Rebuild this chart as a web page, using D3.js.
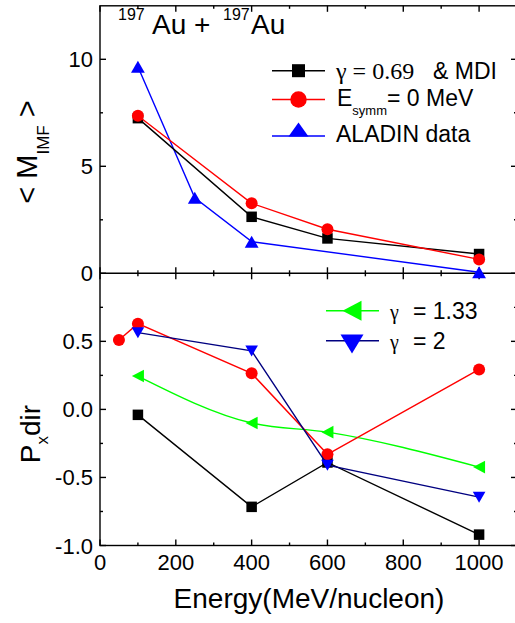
<!DOCTYPE html>
<html><head><meta charset="utf-8">
<script src="https://cdn.jsdelivr.net/npm/d3@7"></script>
<style>body{margin:0;background:#fff}svg{display:block}</style>
</head><body>
<svg id="c" width="515" height="623"></svg>
<script>
// ---------- data ----------
const topBlackX = [100, 400, 600, 1000];
const topBlackY = [7.25, 2.64, 1.63, 0.90];
const topRedX = [100, 400, 600, 1000];
const topRedY = [7.36, 3.27, 2.06, 0.65];
const topBlueX = [100, 250, 400, 1000];
const topBlueY = [9.65, 3.53, 1.48, 0.05];

const botRedX = [50, 100, 400, 600, 1000];
const botRedY = [0.51, 0.63, 0.265, -0.33, 0.294];
const botBlackX = [100, 400, 600, 1000];
const botBlackY = [-0.04, -0.716, -0.39, -0.92];
const botGreenX = [100, 400, 600, 1000];
const botGreenY = [0.245, -0.10, -0.167, -0.424];
const botNavyX = [100, 400, 600, 1000];
const botNavyY = [0.564, 0.43, -0.41, -0.645];

const xTicks = [0, 200, 400, 600, 800, 1000];
const xMinor = [100, 300, 500, 700, 900, 1100];
const topYTicks = [0, 5, 10];
const topYMinor = [2.5, 7.5];
const botYTicks = [-1.0, -0.5, 0.0, 0.5];
const botYMinor = [-0.75, -0.25, 0.25, 0.75];

// ---------- layout ----------
const svg = d3.select("#c");
const L = 100, R = 517, T = 5.8, MID = 273.3, B = 545.5;
const x = d3.scaleLinear().domain([0, 1100]).range([L, R]);
const yT = d3.scaleLinear().domain([0, 12.5]).range([MID, T]);
const yB = d3.scaleLinear().domain([-1, 1]).range([B, MID]);
const SANS = "'Liberation Sans', Arial, sans-serif";
const SERIF = "'Liberation Serif', 'Times New Roman', serif";

// frame
const g = svg.append("g").attr("stroke", "#000").attr("stroke-width", 1.4).attr("fill", "none");
g.append("rect").attr("x", L).attr("y", T).attr("width", R - L).attr("height", B - T);
g.append("line").attr("x1", L).attr("x2", R).attr("y1", MID).attr("y2", MID);

// axes with inward ticks
function xAxisTicks(yPos, dir) {
  xTicks.forEach(v => g.append("line").attr("x1", x(v)).attr("x2", x(v)).attr("y1", yPos).attr("y2", yPos + dir * 6));
  xMinor.forEach(v => g.append("line").attr("x1", x(v)).attr("x2", x(v)).attr("y1", yPos).attr("y2", yPos + dir * 3));
}
xAxisTicks(T, 1); xAxisTicks(MID, -1); xAxisTicks(MID, 1); xAxisTicks(B, -1);
function yAxisTicks(scale, major, minor) {
  major.forEach(v => {
    g.append("line").attr("x1", L).attr("x2", L + 6).attr("y1", scale(v)).attr("y2", scale(v));
    g.append("line").attr("x1", R).attr("x2", R - 6).attr("y1", scale(v)).attr("y2", scale(v));
  });
  minor.forEach(v => {
    g.append("line").attr("x1", L).attr("x2", L + 3).attr("y1", scale(v)).attr("y2", scale(v));
    g.append("line").attr("x1", R).attr("x2", R - 3).attr("y1", scale(v)).attr("y2", scale(v));
  });
}
yAxisTicks(yT, topYTicks, topYMinor);
yAxisTicks(yB, botYTicks, botYMinor);

// tick labels
const lab = svg.append("g").attr("font-family", SANS).attr("font-size", 22).attr("fill", "#000");
topYTicks.forEach(v => lab.append("text").attr("x", 93).attr("y", yT(v) + 8).attr("text-anchor", "end").text(d3.format("d")(v)));
botYTicks.forEach(v => lab.append("text").attr("x", 93).attr("y", yB(v) + 8).attr("text-anchor", "end").text(d3.format(".1f")(v).replace("−", "-")));
xTicks.forEach(v => lab.append("text").attr("x", x(v)).attr("y", 570).attr("text-anchor", "middle").text(v));

// axis titles
svg.append("text").attr("x", 309).attr("y", 608).attr("text-anchor", "middle")
  .attr("font-family", SANS).attr("font-size", 28).text("Energy(MeV/nucleon)");
const yl1 = svg.append("text").attr("transform", "translate(37,152) rotate(-90)").attr("text-anchor", "middle")
  .attr("font-family", SANS).attr("font-size", 29);
yl1.append("tspan").text("< M");
yl1.append("tspan").attr("font-size", 17).attr("dy", 12).text("IMF");
yl1.append("tspan").attr("dy", -12).text(" >");
const yl2 = svg.append("text").attr("transform", "translate(40,434) rotate(-90)").attr("text-anchor", "middle")
  .attr("font-family", SANS).attr("font-size", 28);
yl2.append("tspan").text("P");
yl2.append("tspan").attr("font-size", 17).attr("dy", 8).text("x");
yl2.append("tspan").attr("dy", -8).text("dir");

// title
const tt = svg.append("g").attr("font-family", SANS).attr("fill", "#000");
tt.append("text").attr("x", 118).attr("y", 20).attr("font-size", 16).text("197");
tt.append("text").attr("x", 152).attr("y", 33.5).attr("font-size", 28).text("Au +");
tt.append("text").attr("x", 223).attr("y", 20).attr("font-size", 16).text("197");
tt.append("text").attr("x", 251).attr("y", 33.5).attr("font-size", 28).text("Au");

// markers
function tri(cx, cy, w, h, dir) {
  if (dir === "up") return `M${cx - w / 2},${cy + h / 2}L${cx + w / 2},${cy + h / 2}L${cx},${cy - h / 2}Z`;
  if (dir === "down") return `M${cx - w / 2},${cy - h / 2}L${cx + w / 2},${cy - h / 2}L${cx},${cy + h / 2}Z`;
  return `M${cx + h / 2},${cy - w / 2}L${cx + h / 2},${cy + w / 2}L${cx - h / 2},${cy}Z`; // left
}
function marker(sel, type, cx, cy, color, s) {
  if (type === "square") sel.append("rect").attr("x", cx - s / 2).attr("y", cy - s / 2).attr("width", s).attr("height", s).attr("fill", color);
  else if (type === "circle") sel.append("circle").attr("cx", cx).attr("cy", cy).attr("r", s / 2).attr("fill", color);
  else if (type === "up") sel.append("path").attr("d", tri(cx, cy, s * 1.15, s, "up")).attr("fill", color);
  else if (type === "down") sel.append("path").attr("d", tri(cx, cy, s * 1.15, s, "down")).attr("fill", color);
  else if (type === "left") sel.append("path").attr("d", tri(cx, cy, s * 1.05, s, "left")).attr("fill", color);
}
function series(xs, ys, ysc, lineColor, mType, mColor, mSize, curve) {
  const pts = xs.map((v, i) => [x(v), ysc(ys[i])]);
  const line = d3.line().curve(curve || d3.curveLinear);
  svg.append("path").attr("d", line(pts)).attr("fill", "none").attr("stroke", lineColor).attr("stroke-width", 1.4);
  const mg = svg.append("g");
  pts.forEach(p => marker(mg, mType, p[0], p[1], mColor, mSize));
}

// top panel
series(topBlueX, topBlueY, yT, "#0000ff", "up", "#0000ff", 12);
series(topBlackX, topBlackY, yT, "#000000", "square", "#000000", 10.5);
series(topRedX, topRedY, yT, "#ff0000", "circle", "#ff0000", 12);

// bottom panel
series(botBlackX, botBlackY, yB, "#000000", "square", "#000000", 10.5);
series(botGreenX, botGreenY, yB, "#00ff00", "left", "#00ff00", 12, d3.curveMonotoneX);
series(botRedX, botRedY, yB, "#ff0000", "circle", "#ff0000", 12);
series(botNavyX, botNavyY, yB, "#000080", "down", "#0000ff", 11);

// top legend
const lg = svg.append("g");
function legLine(y, x1, x2, color) {
  lg.append("line").attr("x1", x1).attr("x2", x2).attr("y1", y).attr("y2", y).attr("stroke", color).attr("stroke-width", 1.4);
}
legLine(70.7, 272, 325, "#000"); marker(lg, "square", 298.5, 70.7, "#000", 13);
legLine(99.5, 272, 325, "#ff0000"); marker(lg, "circle", 298.5, 99.5, "#ff0000", 16.5);
legLine(136, 272, 325, "#0000ff");
lg.append("path").attr("d", tri(298.5, 129.5, 20, 14, "up")).attr("fill", "#0000ff");

const t1 = lg.append("text").attr("x", 336).attr("y", 79).attr("font-size", 24).attr("font-family", SERIF);
t1.append("tspan").text("\u03b3 = 0.69 ");
t1.append("tspan").attr("font-family", SANS).attr("font-size", 23).attr("x", 433).text("& MDI");
const t2 = lg.append("text").attr("x", 337).attr("y", 106).attr("font-size", 23).attr("font-family", SANS);
t2.append("tspan").text("E");
t2.append("tspan").attr("font-size", 13).attr("dy", 9).text("symm");
t2.append("tspan").attr("dy", -9).text("= 0 MeV");
lg.append("text").attr("x", 336).attr("y", 142).attr("font-size", 23).attr("font-family", SANS).text("ALADIN data");

// bottom legend
legLine(310.7, 326, 379, "#00ff00");
lg.append("path").attr("d", tri(352, 310.7, 20, 19, "left")).attr("fill", "#00ff00");
legLine(340.7, 326, 379, "#000080");
lg.append("path").attr("d", tri(352, 344, 23, 19, "down")).attr("fill", "#0000ff");
[["1.33", 318.5], ["2", 348.5]].forEach(([v, yy]) => {
  lg.append("text").attr("x", 390).attr("y", yy).attr("font-size", 20).attr("font-family", SERIF).text("\u03b3");
  lg.append("text").attr("x", 413).attr("y", yy).attr("font-size", 23).attr("font-family", SANS).text("= " + v);
});
</script>
</body></html>
